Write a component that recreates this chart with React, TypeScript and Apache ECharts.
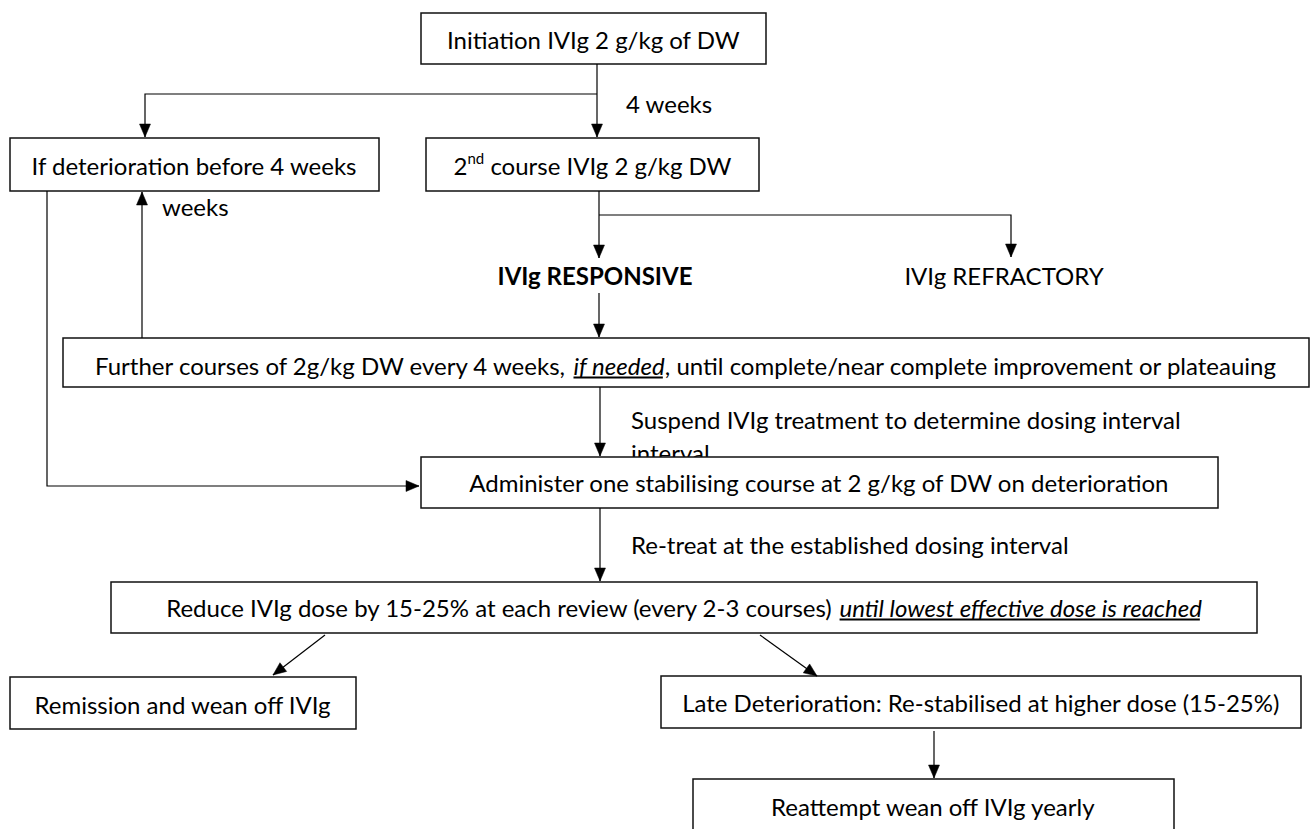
import React, { useEffect, useRef } from "react";
import * as echarts from "echarts";

const FONT_FAMILY = "Lato";
const FONT_SIZE = 24;

type Seg = { t: string; i?: boolean; b?: boolean; u?: boolean; sup?: boolean };

// ---- texts of the flowchart boxes ----
const boxLabels: Seg[][] = [
  [{ t: "Initiation IVIg 2 g/kg of DW" }],
  [{ t: "If deterioration before 4 weeks" }],
  [{ t: "2" }, { t: "nd", sup: true }, { t: " course IVIg 2 g/kg DW" }],
  [
    { t: "Further courses of 2g/kg DW every 4 weeks, " },
    { t: "if needed", i: true, u: true },
    { t: ", until complete/near complete improvement or plateauing" },
  ],
  [{ t: "Administer one stabilising course at 2 g/kg of DW on deterioration" }],
  [
    { t: "Reduce IVIg dose by 15-25% at each review (every 2-3 courses) " },
    { t: "until lowest effective dose is reached", i: true, u: true },
  ],
  [{ t: "Remission and wean off IVIg" }],
  [{ t: "Late Deterioration: Re-stabilised at higher dose (15-25%)" }],
  [{ t: "Reattempt wean off IVIg yearly" }],
];

// ---- free-standing labels ----
const freeLabels: Seg[][] = [
  [{ t: "4 weeks" }],
  [{ t: "weeks" }],
  [{ t: "IVIg RESPONSIVE", b: true }],
  [{ t: "IVIg REFRACTORY" }],
  [{ t: "Suspend IVIg treatment to determine dosing interval" }],
  [{ t: "interval" }],
  [{ t: "Re-treat at the established dosing interval" }],
];

// ---- layout (positions / sizes) ----
const boxLayout = [
  { x: 421, y: 13, w: 345, h: 51, ty: 39 },
  { x: 10, y: 138, w: 369, h: 53, ty: 165 },
  { x: 426, y: 138, w: 333, h: 53, ty: 165 },
  { x: 63, y: 338, w: 1246, h: 49, ty: 365 },
  { x: 421, y: 457, w: 797, h: 51, ty: 482 },
  { x: 111, y: 582, w: 1146, h: 51, ty: 607 },
  { x: 10, y: 677, w: 346, h: 52, ty: 704 },
  { x: 661, y: 676, w: 640, h: 52, ty: 702 },
  { x: 693, y: 779, w: 481, h: 70, ty: 806 },
];

const freeLayout = [
  { x: 626, y: 103, align: "left" },
  { x: 162, y: 206, align: "left" },
  { x: 595, y: 275, align: "center" },
  { x: 1004, y: 275, align: "center" },
  { x: 631, y: 419, align: "left" },
  { x: 631, y: 452, align: "left" },
  { x: 631, y: 544, align: "left" },
];

// each connector: polyline points, arrow at the last point
const connectors: number[][][] = [
  [[597, 64], [597, 137]],
  [[597, 94], [145, 94], [145, 137]],
  [[599, 191], [599, 258]],
  [[599, 215], [1011, 215], [1011, 257]],
  [[599, 293], [599, 337]],
  [[142, 338], [142, 192]],
  [[47, 191], [47, 486], [419, 486]],
  [[600, 387], [600, 456]],
  [[600, 508], [600, 581]],
  [[325, 635], [273, 675]],
  [[760, 635], [817, 676]],
  [[934, 731], [934, 778]],
];

let measureCtx: CanvasRenderingContext2D | null = null;
function fontOf(s: Seg) {
  const size = s.sup ? Math.round(FONT_SIZE * 0.62) : FONT_SIZE;
  return `${s.i ? "italic " : ""}${s.b ? "bold " : ""}${size}px ${FONT_FAMILY}`;
}
function measure(s: Seg) {
  if (!measureCtx) measureCtx = document.createElement("canvas").getContext("2d");
  measureCtx!.font = fontOf(s);
  return measureCtx!.measureText(s.t).width;
}

function lineElements(segs: Seg[], x: number, y: number, align: string, z: number) {
  const widths = segs.map(measure);
  const total = widths.reduce((a, b) => a + b, 0);
  let cx = align === "center" ? x - total / 2 : x;
  const out: any[] = [];
  segs.forEach((s, k) => {
    const yy = s.sup ? y - FONT_SIZE * 0.28 : y;
    out.push({
      type: "text",
      z,
      x: cx,
      y: yy,
      style: {
        text: s.t,
        font: fontOf(s),
        fill: "#000",
        textAlign: "left",
        textVerticalAlign: "middle",
      },
    });
    if (s.u) {
      out.push({
        type: "line",
        z,
        shape: { x1: cx, y1: y + FONT_SIZE * 0.52, x2: cx + widths[k] - 2, y2: y + FONT_SIZE * 0.52 },
        style: { stroke: "#000", lineWidth: 2 },
      });
    }
    cx += widths[k];
  });
  return out;
}

function arrowHead(p: number[], q: number[], z: number) {
  const dx = q[0] - p[0];
  const dy = q[1] - p[1];
  const len = Math.hypot(dx, dy) || 1;
  const ux = dx / len;
  const uy = dy / len;
  const L = 13;
  const W = 5.5;
  const bx = q[0] - ux * L;
  const by = q[1] - uy * L;
  return {
    type: "polygon",
    z,
    shape: {
      points: [
        [q[0], q[1]],
        [bx - uy * W, by + ux * W],
        [bx + uy * W, by - ux * W],
      ],
    },
    style: { fill: "#000", stroke: "#000", lineWidth: 0.5 },
  };
}

export default function App() {
  const ref = useRef<HTMLDivElement>(null);
  useEffect(() => {
    if (!ref.current) return;
    const chart = echarts.init(ref.current, undefined, { renderer: "svg" });
    const elements: any[] = [];

    freeLabels.forEach((segs, k) => {
      const L = freeLayout[k];
      elements.push(...lineElements(segs, L.x, L.y, L.align, 1));
    });

    boxLayout.forEach((b, k) => {
      elements.push({
        type: "rect",
        z: 2,
        shape: { x: b.x, y: b.y, width: b.w, height: b.h },
        style: { fill: "#fff", stroke: "#111", lineWidth: 1.5 },
      });
      elements.push(...lineElements(boxLabels[k], b.x + b.w / 2, b.ty, "center", 3));
    });

    connectors.forEach((pts) => {
      elements.push({
        type: "polyline",
        z: 4,
        shape: { points: pts },
        style: { stroke: "#000", lineWidth: 1.2, fill: null },
      });
      elements.push(arrowHead(pts[pts.length - 2], pts[pts.length - 1], 5));
    });

    chart.setOption({
      animation: false,
      backgroundColor: "#fff",
      graphic: { elements },
    });
    return () => chart.dispose();
  }, []);
  return (
    <div
      ref={ref}
      style={{ position: "absolute", left: 0, top: 0, width: 1310, height: 829, background: "#fff" }}
    />
  );
}
